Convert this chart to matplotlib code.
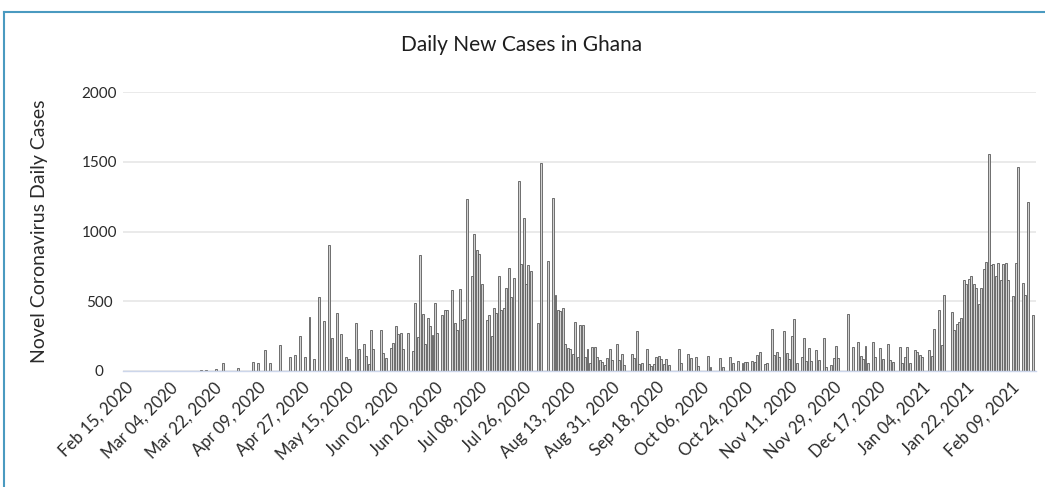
import matplotlib
matplotlib.use("Agg")
import matplotlib.pyplot as plt
from matplotlib.lines import Line2D

# Daily new cases, one value per day starting Feb 15, 2020
daily_cases = [
    0, 0, 0, 0, 0, 0, 0, 0, 0, 0,
    0, 0, 0, 0, 0, 0, 0, 0, 0, 0,
    0, 0, 0, 0, 0, 0, 2, 0, 0, 3,
    0, 4, 0, 5, 0, 3, 0, 14, 0, 0,
    57, 0, 0, 0, 0, 0, 20, 0, 0, 0,
    0, 0, 64, 0, 57, 0, 0, 150, 0, 57,
    0, 0, 0, 186, 0, 0, 0, 97, 0, 116,
    0, 252, 0, 100, 0, 390, 0, 85, 0, 530,
    0, 360, 0, 905, 235, 0, 415, 0, 265, 0,
    100, 85, 0, 0, 345, 155, 0, 190, 110, 50,
    295, 155, 0, 0, 295, 130, 95, 0, 165, 200,
    320, 265, 275, 155, 0, 270, 0, 140, 485, 245,
    830, 410, 195, 380, 320, 255, 490, 275, 0, 400,
    435, 440, 0, 580, 345, 295, 585, 365, 370, 1230,
    0, 680, 980, 865, 840, 625, 0, 365, 400, 250,
    450, 415, 680, 440, 455, 595, 740, 530, 670, 0,
    1360, 770, 1100, 625, 760, 720, 0, 0, 345, 1490,
    0, 0, 785, 0, 1240, 545, 440, 430, 450, 195,
    165, 155, 120, 350, 100, 330, 330, 100, 160, 55,
    170, 170, 100, 80, 65, 45, 95, 160, 80, 0,
    190, 80, 120, 45, 0, 0, 120, 90, 285, 50,
    55, 0, 160, 50, 35, 50, 100, 110, 85, 50,
    85, 40, 0, 0, 0, 155, 55, 0, 0, 125,
    90, 0, 100, 35, 0, 0, 0, 105, 30, 0,
    0, 0, 90, 30, 0, 0, 98, 60, 0, 74,
    0, 55, 67, 67, 0, 74, 67, 114, 138, 0,
    50, 60, 0, 300, 114, 138, 102, 0, 288, 130,
    83, 252, 371, 55, 0, 102, 240, 74, 162, 74,
    0, 150, 78, 0, 233, 30, 0, 43, 90, 178,
    90, 0, 0, 0, 412, 0, 169, 0, 210, 107,
    83, 178, 60, 0, 210, 102, 0, 162, 83, 0,
    190, 78, 67, 0, 0, 174, 55, 102, 174, 60,
    0, 150, 138, 114, 98, 0, 0, 150, 107, 298,
    0, 440, 186, 543, 0, 0, 424, 293, 336, 352,
    383, 650, 626, 662, 678, 621, 597, 483, 597, 733,
    780, 1559, 757, 764, 678, 776, 650, 764, 776, 650,
    0, 535, 773, 1464, 0, 633, 543, 1209, 0, 400,
]

tick_labels = [
    "Feb 15, 2020", "Mar 04, 2020", "Mar 22, 2020", "Apr 09, 2020",
    "Apr 27, 2020", "May 15, 2020", "Jun 02, 2020", "Jun 20, 2020",
    "Jul 08, 2020", "Jul 26, 2020", "Aug 13, 2020", "Aug 31, 2020",
    "Sep 18, 2020", "Oct 06, 2020", "Oct 24, 2020", "Nov 11, 2020",
    "Nov 29, 2020", "Dec 17, 2020", "Jan 04, 2021", "Jan 22, 2021",
    "Feb 09, 2021",
]
tick_step_days = 18
y_ticks = [0, 500, 1000, 1500, 2000]

plt.rcParams['font.family'] = ['Lato', 'DejaVu Sans']

W, H = 1045, 487
fig = plt.figure(figsize=(W / 100, H / 100), dpi=100)
fig.patch.set_facecolor('white')

left, right, top, bottom = 123, 1036, 92, 371
ax = fig.add_axes([left / W, 1 - bottom / H, (right - left) / W, (bottom - top) / H])

days = list(range(len(daily_cases)))
ax.bar(days, daily_cases, width=0.8, color='#d2d2d2', edgecolor='#5a5a5a',
       linewidth=0.6, zorder=3)

ax.set_xlim(-0.8, 370.3)
ax.set_ylim(0, 2000)
ax.set_yticks(y_ticks)
ax.set_yticklabels([str(v) for v in y_ticks])
ax.grid(axis='y', color='#e6e6e6', linewidth=1.2, zorder=0)
ax.set_axisbelow(True)
for s in ['top', 'right', 'left']:
    ax.spines[s].set_visible(False)
ax.spines['bottom'].set_color('#ccd6eb')
ax.spines['bottom'].set_linewidth(1.0)
ax.spines['bottom'].set_zorder(4)

tick_pos = [i * tick_step_days for i in range(len(tick_labels))]
ax.set_xticks(tick_pos)
ax.set_xticklabels(tick_labels, rotation=45, ha='right', rotation_mode='anchor',
                   fontsize=12, color='#2a2a2a')
ax.tick_params(axis='x', length=0, pad=6)
ax.tick_params(axis='y', length=0, labelsize=11, labelcolor='#2a2a2a', pad=17)
for lab in ax.get_yticklabels():
    lab.set_horizontalalignment('center')

fig.text(522 / W, 1 - 45 / H, "Daily New Cases in Ghana", ha='center', va='center',
         fontsize=15, color='#1e1e1e')
fig.text(40 / W, 1 - 231 / H, "Novel Coronavirus Daily Cases", ha='center', va='center',
         rotation=90, fontsize=14, color='#2a2a2a')

border_color = '#4a9ac0'
fig.add_artist(Line2D([4 / W, 1], [1 - 12 / H, 1 - 12 / H], transform=fig.transFigure,
                      color=border_color, linewidth=1.5))
fig.add_artist(Line2D([4 / W, 4 / W], [0, 1 - 12 / H], transform=fig.transFigure,
                      color=border_color, linewidth=1.5))

fig.savefig('out.png', dpi=100, facecolor='white')
